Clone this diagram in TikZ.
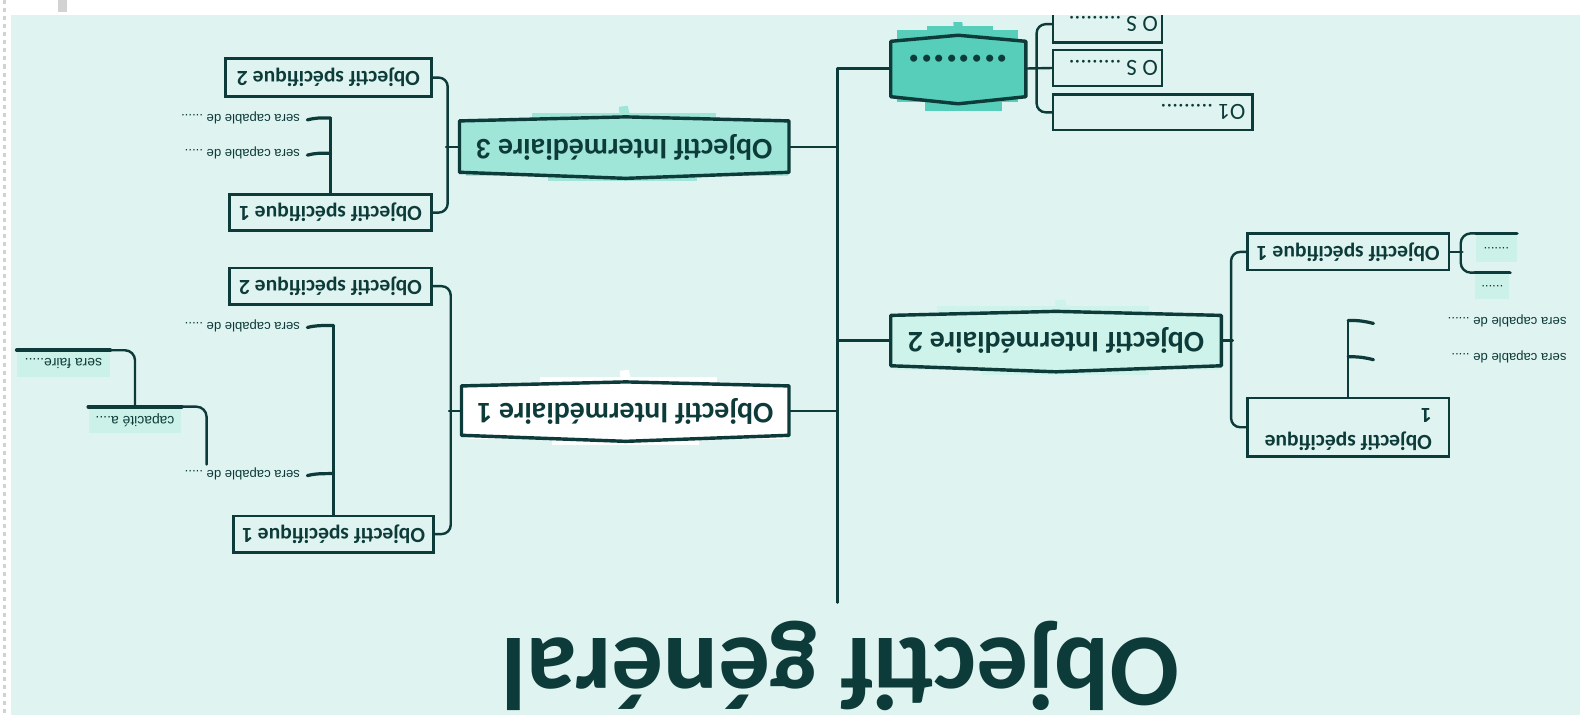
\documentclass[tikz,border=0pt]{standalone}
\usepackage{graphicx}
\usepackage{fontspec}
\setmainfont{Carlito}
\newfontfamily\labfont{Liberation Sans}
\usetikzlibrary{calc}
\definecolor{bgteal}{HTML}{DFF4F1}
\definecolor{ink}{HTML}{0D3B39}
\definecolor{fillA}{HTML}{9FE6D9}
\definecolor{fillB}{HTML}{CEF3EA}
\definecolor{fillH}{HTML}{56CEB9}
\definecolor{fillS}{HTML}{CCF1E8}
\definecolor{bordergrey}{HTML}{D2D2D2}
\newcommand{\upside}[1]{\rotatebox{180}{#1}}
\newcommand{\intermshape}[6]{%
  \draw[fill=#1, draw=ink, line width=1.7pt, line join=round]
    (#2,#4) -- (#6,#4-4) -- (#3,#4) -- (#3,#5) -- (#6,#5+6) -- (#2,#5) -- cycle;}
\begin{document}
\begin{tikzpicture}[x=0.5pt,y=-0.5pt,
  conn/.style={draw=ink, line width=1.2pt, line cap=round, line join=round},
  osbox/.style={draw=ink, line width=1.3pt, inner sep=0pt, text=ink, font=\fontsize{10.7pt}{13.5pt}\selectfont\bfseries},
  imn/.style={inner sep=0pt, text=ink, font=\fontsize{14.8pt}{17pt}\selectfont\bfseries, minimum height=25pt},
  lab/.style={inner xsep=3.5pt, inner ysep=1pt, text=ink, font=\labfont\fontsize{6.5pt}{8pt}\selectfont},
  tickln/.style={draw=ink, line width=1.6pt, line cap=round},
  subfill/.style={fill=fillS, inner sep=0pt, text=ink, font=\labfont\fontsize{6.9pt}{8pt}\selectfont},
  thickln/.style={draw=ink, line width=1.8pt, line cap=round},
  obox/.style={draw=ink, line width=1.3pt, inner sep=0pt, text=ink, font=\fontsize{11.5pt}{13pt}\selectfont},
]
\useasboundingbox (0,0) rectangle (1568,710);
\fill[white] (0,0) rectangle (1568,710);
\fill[bgteal] (11,15) rectangle (1568,710);

% ---- sketch patches behind the intermediate nodes
\fill[fillA] (528,112) rectangle (711,122);
\fill[fillA] (614,106) -- (623,105) -- (625,114) -- (615,114) -- cycle;
\fill[fillA] (544,170) rectangle (692,180);
\fill[fillA] (462,170) rectangle (782,175);

\fill[white] (536,374) rectangle (712,384);
\fill[white] (615,368) -- (624,367) -- (626,376) -- (616,376) -- cycle;
\fill[white] (548,432) rectangle (694,442);
\fill[white] (464,432) rectangle (780,436);

\fill[fillB] (930,304) rectangle (1140,313);
\fill[fillB] (1047,298) -- (1057,297) -- (1059,306) -- (1048,306) -- cycle;
\fill[fillB] (975,363) rectangle (1140,372);
\fill[fillB] (888,363) rectangle (1210,367);

\fill[fillH] (890,30) rectangle (1010,40);
\fill[fillH] (920,26) rectangle (985,35);
\fill[fillH] (946,22) -- (955,22) -- (956,32) -- (947,32) -- cycle;
\fill[fillH] (918,97) rectangle (994,110);
\fill[fillH] (890,96) rectangle (1010,101);

% ---- intermediate node shapes
\intermshape{fillA}{456}{783}{120}{171}{621}
\intermshape{white}{458}{783}{383}{432}{621}
\intermshape{fillB}{884}{1212}{313}{363}{1048}
\draw[fill=fillH, draw=ink, line width=1.7pt, line join=round]
  (884,41) -- (951,35) -- (1018,41) -- (1018,96) -- (951,103) -- (884,96) -- cycle;

% ---- nodes
\node[text=ink, inner sep=0pt, font=\fontsize{51pt}{55pt}\selectfont\bfseries] (T) at (834,661) {\upside{Objectif général}};

\node[minimum width=67pt, minimum height=30pt, inner sep=0pt,
  label={[text=ink, font=\fontsize{23.5pt}{24pt}\selectfont\bfseries, yshift=5pt]center:\upside{........}}] (H) at (951,68) {};
\node[imn, minimum width=163.5pt] (I3) at (619.5,146) {\upside{Objectif Intermédiaire 3}};
\node[imn, minimum width=162.5pt] (I1) at (620.5,408) {\upside{Objectif Intermédiaire 1}};
\node[imn, minimum width=164pt] (I2) at (1048,338) {\upside{Objectif Intermédiaire 2}};

\node[osbox, minimum width=102pt, minimum height=19pt] (OS32) at (326,77) {\upside{Objectif spécifique 2}};
\node[osbox, minimum width=100pt, minimum height=18pt] (OS31) at (328,211) {\upside{Objectif spécifique 1}};
\node[osbox, minimum width=100pt, minimum height=18pt] (OS12) at (328,284) {\upside{Objectif spécifique 2}};
\node[osbox, minimum width=99pt, minimum height=18pt] (OS11) at (331,530) {\upside{Objectif spécifique 1}};
\node[osbox, minimum width=100pt, minimum height=18pt] (OS21) at (1338,250) {\upside{Objectif spécifique 1}};
\node[osbox, minimum width=100pt, minimum height=29pt] (OS22) at (1338,424) {\upside{\begin{tabular}{@{}l@{}}Objectif spécifique\\1\end{tabular}}};

\node[obox, minimum width=54pt, minimum height=18pt] (B1) at (1099,24) {\upside{\makebox[50pt][l]{O S .........}}};
\node[obox, minimum width=54pt, minimum height=18pt] (B2) at (1099,67.5) {\upside{\makebox[50pt][l]{O S .........}}};
\node[obox, minimum width=99pt, minimum height=17.5pt] (B3) at (1144,111.5) {\upside{\makebox[92pt][l]{O1 .........}}};

\node[lab, anchor=east] (L1) at (305,117) {\upside{sera capable de ......}};
\node[lab, anchor=east] (L2) at (305,152) {\upside{sera capable de .....}};
\node[lab, anchor=east] (L3) at (305,323) {\upside{sera capable de .....}};
\node[lab, anchor=east] (L4) at (305,470) {\upside{sera capable de .....}};
\node[lab, anchor=east] (R1) at (1562,318) {\upside{sera capable de ......}};
\node[lab, anchor=east] (R2) at (1562,354) {\upside{sera capable de .....}};

\node[subfill, minimum width=46pt, minimum height=13pt] (C) at (134,417) {\upside{capacité a....}};
\node[subfill, minimum width=46pt, minimum height=13pt] (SF) at (63,361) {\upside{sera faire.....}};
\node[subfill, font=\labfont\fontsize{6.5pt}{8pt}\selectfont, minimum width=20pt, minimum height=14pt] (D1) at (1485,246) {\upside{.......}};
\node[subfill, font=\labfont\fontsize{6.5pt}{8pt}\selectfont, minimum width=17pt, minimum height=13pt] (D2) at (1481,284) {\upside{......}};

% ---- connectors
\coordinate (spb) at (831,598);
\draw[conn] (spb) |- (H.west);
\draw[conn] (I3.east) -- (I3.east -| spb);
\draw[conn] (I1.east) -- (I1.east -| spb);
\draw[conn] (I2.west) -- (I2.west -| spb);

\draw[conn] (H.east) -- (B2.west);
\draw[conn, rounded corners=4.5pt] (B1.west) -- ++(-15,0) |- (B3.west);

\draw[conn] (I3.west) -- ++(-13,0);
\draw[conn, rounded corners=4.5pt] (OS32.east) -- ++(15,0) |- (OS31.east);
\draw[conn] (I1.west) -- ++(-12,0);
\draw[conn, rounded corners=4.5pt] (OS12.east) -- ++(18,0) |- (OS11.east);
\draw[conn] (I2.east) -- ++(11,0);
\draw[conn, rounded corners=4.5pt] (OS21.west) -- ++(-15,0) |- (OS22.west);

\draw[conn] (OS31.north) -- (OS31.north |- L1.east);
\draw[tickln] (OS31.north |- L1.east) .. controls +(-12,0) and +(8,-2) .. ([yshift=-1pt]L1.east);
\draw[tickln] (OS31.north |- L2.east) .. controls +(-12,0) and +(8,-2) .. ([yshift=-1pt]L2.east);

\draw[conn] (OS11.north) -- (OS11.north |- L3.east);
\draw[tickln] (OS11.north |- L3.east) .. controls +(-12,0) and +(8,-2) .. ([yshift=-1pt]L3.east);
\draw[tickln] (OS11.north |- L4.east) .. controls +(-12,0) and +(8,-2) .. ([yshift=-1pt]L4.east);

\coordinate (r1t) at (1363,321);
\coordinate (r2t) at (1363,357);
\draw[conn] (OS22.north) -- (OS22.north |- R1.west);
\draw[tickln] (OS22.north |- R1.west) .. controls +(12,0) and +(-8,-2) .. (r1t);
\draw[tickln] (OS22.north |- R2.west) .. controls +(12,0) and +(-8,-2) .. (r2t);

\coordinate (capfoot) at (205,461);
\draw[conn, rounded corners=5pt] (capfoot) |- (C.north east);
\draw[thickln] (C.north west) -- (C.north east);
\draw[conn, rounded corners=5pt] (C.north) |- (SF.north east);
\draw[thickln] (SF.north west) -- (SF.north east);

\draw[conn] (OS21.east) -- ++(12,0);
\draw[conn, rounded corners=5pt] (D1.north west) -- ++(-15,0) |- (D2.north west);
\draw[thickln] (D1.north west) -- (D1.north east);
\draw[thickln] (D2.north west) -- (D2.north east);

% ---- page frame
\fill[white] (0,0) rectangle (1568,15);
\fill[bordergrey] (58,0) rectangle (66,12);
\draw[bordergrey, line width=1.5pt, dash pattern=on 2pt off 2pt] (4,0) -- (4,710);
\end{tikzpicture}
\end{document}
